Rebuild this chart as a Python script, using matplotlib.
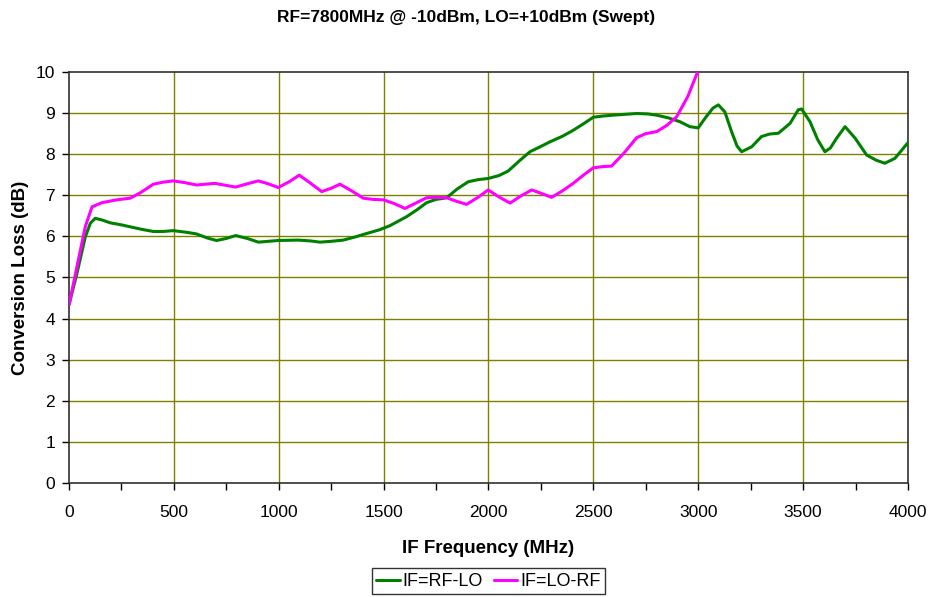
import matplotlib
matplotlib.use("Agg")
import matplotlib.pyplot as plt

plt.rcParams['font.family'] = ['Liberation Sans', 'DejaVu Sans']

# IF=RF-LO (MHz, dB)
rflo_x = [0, 38, 78, 102, 125, 157, 197, 250, 348, 402, 450, 497, 560, 608, 660, 704,
          750, 795, 850, 903, 950, 998, 1093, 1150, 1197, 1250, 1308, 1360, 1419,
          1480, 1530, 1610, 1660, 1705, 1750, 1801, 1850, 1904, 1950, 1999, 2050,
          2094, 2150, 2198, 2250, 2293, 2350, 2397, 2450, 2500, 2550, 2595, 2650,
          2706, 2760, 2802, 2860, 2913, 2960, 3000, 3032, 3070, 3096, 3127, 3159,
          3185, 3207, 3255, 3302, 3340, 3382, 3438, 3477, 3493, 3533, 3570, 3604,
          3630, 3660, 3700, 3748, 3803, 3850, 3890, 3938, 4000]
rflo_y = [4.33, 5.10, 5.99, 6.32, 6.44, 6.40, 6.33, 6.28, 6.17, 6.12, 6.12, 6.14,
          6.10, 6.06, 5.96, 5.90, 5.95, 6.02, 5.95, 5.86, 5.88, 5.90, 5.91, 5.89,
          5.86, 5.88, 5.91, 5.98, 6.07, 6.16, 6.26, 6.48, 6.65, 6.82, 6.90, 6.94,
          7.15, 7.33, 7.38, 7.41, 7.48, 7.59, 7.85, 8.06, 8.19, 8.30, 8.43, 8.56,
          8.73, 8.90, 8.93, 8.95, 8.97, 8.99, 8.98, 8.95, 8.88, 8.79, 8.67, 8.64,
          8.87, 9.12, 9.20, 9.03, 8.55, 8.20, 8.06, 8.18, 8.43, 8.49, 8.51, 8.75,
          9.08, 9.10, 8.79, 8.35, 8.06, 8.15, 8.39, 8.67, 8.39, 7.98, 7.85, 7.78,
          7.90, 8.28]

# IF=LO-RF (MHz, dB)
lorf_x = [0, 38, 78, 110, 157, 229, 292, 340, 402, 450, 497, 550, 609, 650, 696, 750,
          795, 850, 903, 950, 998, 1050, 1098, 1150, 1205, 1250, 1292, 1350, 1403,
          1450, 1499, 1550, 1602, 1650, 1705, 1750, 1801, 1850, 1896, 1950, 1999,
          2050, 2103, 2150, 2206, 2250, 2301, 2350, 2404, 2450, 2500, 2550, 2587,
          2650, 2706, 2750, 2802, 2850, 2897, 2950, 2997]
lorf_y = [4.33, 5.26, 6.24, 6.72, 6.82, 6.89, 6.93, 7.06, 7.27, 7.32, 7.35, 7.31,
          7.25, 7.27, 7.29, 7.24, 7.20, 7.28, 7.35, 7.28, 7.19, 7.33, 7.49, 7.30,
          7.09, 7.17, 7.27, 7.10, 6.93, 6.90, 6.89, 6.80, 6.68, 6.80, 6.94, 6.95,
          6.94, 6.85, 6.78, 6.95, 7.13, 6.96, 6.81, 6.97, 7.13, 7.05, 6.95, 7.10,
          7.29, 7.48, 7.67, 7.70, 7.71, 8.05, 8.40, 8.50, 8.55, 8.70, 8.91, 9.40,
          10.0]

xticks = list(range(0, 4001, 500))
xminor = list(range(0, 4001, 250))
yticks = list(range(0, 11))

fig = plt.figure(figsize=(9.32, 5.97), dpi=100)
ax = fig.add_axes([0.074, 0.191, 0.9002, 0.6884])

grid_c = '#808000'
for v in xticks[1:-1]:
    ax.axvline(v, color=grid_c, lw=1.0, zorder=1)
for v in yticks[1:-1]:
    ax.axhline(v, color=grid_c, lw=1.0, zorder=1)

ax.plot(rflo_x, rflo_y, color='#008000', lw=2.2, label='IF=RF-LO', zorder=3,
        solid_joinstyle='round', solid_capstyle='round')
ax.plot(lorf_x, lorf_y, color='#FF00FF', lw=2.2, label='IF=LO-RF', zorder=3,
        solid_joinstyle='round', solid_capstyle='round')

ax.set_xlim(0, 4000)
ax.set_ylim(0, 10)
ax.set_xticks(xticks)
ax.set_xticks(xminor, minor=True)
ax.set_yticks(yticks)
ax.tick_params(axis='x', which='both', labelsize=12.5, direction='out', length=5,
               width=1, colors='black', pad=11)
ax.tick_params(axis='y', labelsize=12.5, direction='out', length=5, width=1,
               colors='black', pad=5)
for s in ax.spines.values():
    s.set_color('#303030')
    s.set_linewidth(1.2)

ax.set_xlabel('IF Frequency (MHz)', fontsize=13.5, fontweight='bold', labelpad=14)
ax.set_ylabel('Conversion Loss (dB)', fontsize=13.5, fontweight='bold', labelpad=5)
fig.text(0.5, 0.97, 'RF=7800MHz @ -10dBm, LO=+10dBm (Swept)', ha='center', va='center',
         fontsize=12.5, fontweight='bold')

handles, labels = ax.get_legend_handles_labels()
leg = fig.legend(handles, labels, loc='upper center', bbox_to_anchor=(0.524, 0.048),
                 ncol=2, fontsize=13, frameon=True, fancybox=False, handlelength=1.3,
                 handletextpad=0.15, columnspacing=0.6, borderpad=0.25, borderaxespad=0)
leg.get_frame().set_edgecolor('black')
leg.get_frame().set_linewidth(1.0)

fig.savefig('out.png', dpi=100)
